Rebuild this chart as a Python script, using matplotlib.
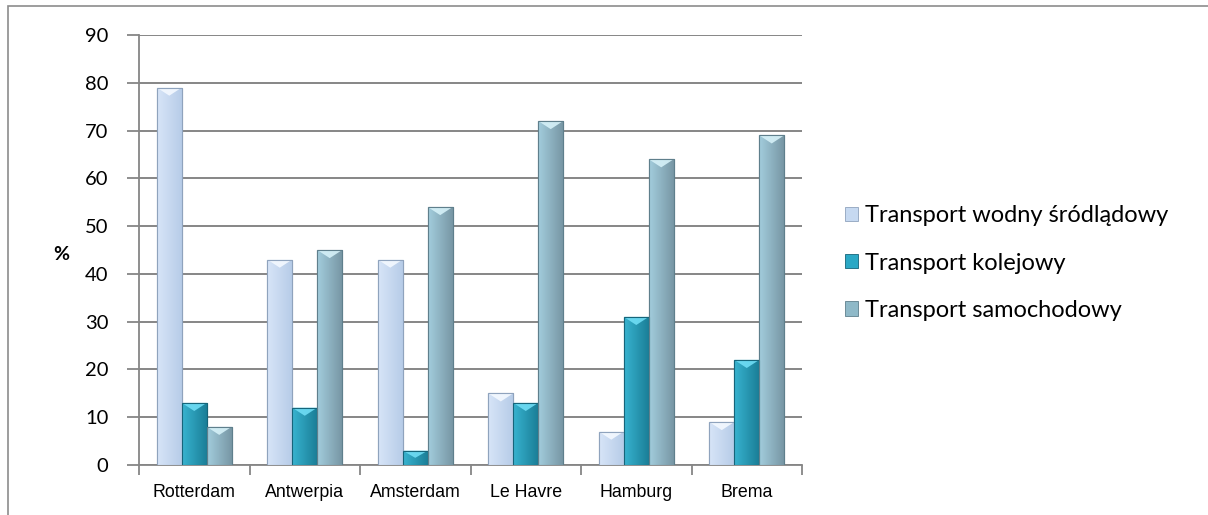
import numpy as np
import matplotlib
matplotlib.use("Agg")
import matplotlib.pyplot as plt
from matplotlib.patches import Patch, Polygon, Rectangle
from matplotlib.colors import LinearSegmentedColormap

# ── data ─────────────────────────────────────────────
ports = ["Rotterdam", "Antwerpia", "Amsterdam", "Le Havre", "Hamburg", "Brema"]
series_names = ["Transport wodny śródlądowy", "Transport kolejowy", "Transport samochodowy"]
wodny = [79, 43, 43, 15, 7, 9]
kolejowy = [13, 12, 3, 13, 31, 22]
samochodowy = [8, 45, 54, 72, 64, 69]
yticks = list(range(0, 91, 10))

# ── style ────────────────────────────────────────────
# (dark side, light side, top bevel, edge)
styles = [
    ("#B7CCE8", "#DCE9FA", "#F4F9FF", "#8FA3BD"),
    ("#1B7F98", "#3CBBD8", "#6FDDF5", "#16657A"),
    ("#7897A5", "#A9D5E5", "#D6F1F8", "#5F7F8C"),
]
legend_cols = ["#C6D9F1", "#2BA8C5", "#8FB9C8"]
GRID = "#868686"
FONT = ["Lato", "DejaVu Sans"]

fig = plt.figure(figsize=(12.08, 5.15), dpi=100)
ax = fig.add_axes([139 / 1208, 50 / 515, (802 - 139) / 1208, (465 - 35) / 515])

x = np.arange(len(ports))
w = 0.226
values = [wodny, kolejowy, samochodowy]

for i, (vals, st) in enumerate(zip(values, styles)):
    dark, light, top, edge = st
    cmap = LinearSegmentedColormap.from_list(f"s{i}", [light, dark])
    bars = ax.bar(x + (i - 1) * w, vals, w, color=light, edgecolor=edge,
                  linewidth=0.8, zorder=3)
    grad = np.linspace(0, 1, 64).reshape(1, -1)
    for b in bars:
        x0, bw, h = b.get_x(), b.get_width(), b.get_height()
        im = ax.imshow(grad, extent=(x0, x0 + bw, 0, h), aspect="auto",
                       cmap=cmap, vmin=-0.15, vmax=1.0, zorder=3.5)
        im.set_clip_path(b)
        # bevel triangle on top of bar
        bev = min(1.7, h * 0.5)
        ax.add_patch(Polygon([(x0, h), (x0 + bw, h), (x0 + bw / 2, h - bev)],
                             closed=True, facecolor=top, edgecolor="none",
                             alpha=0.9, zorder=4))
        ax.add_patch(Rectangle((x0, 0), bw, h, fill=False, edgecolor=edge,
                               linewidth=0.8, zorder=4.5))

ax.set_xlim(-0.5, len(ports) - 0.5)
ax.set_ylim(0, 90)
ax.set_yticks(yticks)
ax.set_yticklabels([str(t) for t in yticks], fontsize=14.5, family=FONT)
ax.yaxis.grid(True, color=GRID, linewidth=1.4, zorder=0)
ax.set_axisbelow(True)

ax.set_xticks(x)
ax.set_xticklabels(ports, fontsize=12.8, family=["Liberation Sans", "DejaVu Sans"])
ax.tick_params(axis="x", length=0, pad=14)
ax.set_xticks(np.arange(-0.5, len(ports)), minor=True)
ax.tick_params(axis="x", which="minor", length=7, color=GRID, width=1.3)
ax.tick_params(axis="y", length=9, color=GRID, width=1.3, pad=13)

for s in ["top", "right"]:
    ax.spines[s].set_visible(False)
for s in ["left", "bottom"]:
    ax.spines[s].set_color(GRID)
    ax.spines[s].set_linewidth(1.3)

ax.set_ylabel("%", rotation=0, fontsize=14, fontweight="bold", family=FONT,
              labelpad=16, va="center")
ax.yaxis.set_label_coords(-0.118, 0.49)

handles = [Patch(facecolor=c, edgecolor=s[3], linewidth=0.6)
           for c, s in zip(legend_cols, styles)]
leg = fig.legend(handles, series_names, loc="center left",
                 bbox_to_anchor=(824 / 1208, 1 - 263 / 515), frameon=False,
                 prop={"family": FONT, "size": 17}, handlelength=0.55,
                 handleheight=0.55, handletextpad=0.3, labelspacing=1.12)

# chart border
fig.add_artist(Rectangle((8 / 1208, -0.05), 1.1, 1 - 6 / 515 + 0.05,
                         transform=fig.transFigure, fill=False,
                         edgecolor="#8C8C8C", linewidth=1.2))

fig.savefig("out.png", dpi=100, facecolor="white")
